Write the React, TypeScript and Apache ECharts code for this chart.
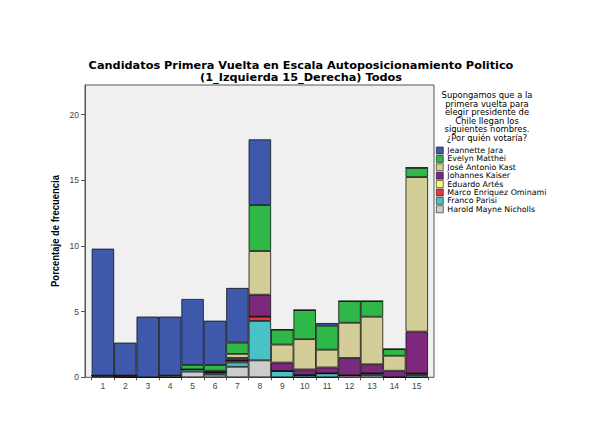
import React, { useEffect, useRef } from "react";
import * as echarts from "echarts";

const categories = ["1", "2", "3", "4", "5", "6", "7", "8", "9", "10", "11", "12", "13", "14", "15"];
const yTicks = [0, 5, 10, 15, 20];

const jara = [9.66, 2.51, 4.62, 4.49, 5.02, 3.38, 4.16, 5.0, 0, 0, 0.2, 0, 0, 0, 0];
const matthei = [0, 0, 0, 0, 0.34, 0.43, 0.86, 3.5, 1.14, 2.22, 1.83, 1.65, 1.19, 0.51, 0.71];
const kast = [0, 0, 0, 0.13, 0, 0.1, 0.3, 3.32, 1.37, 2.3, 1.35, 2.68, 3.62, 1.14, 11.76];
const kaiser = [0, 0, 0, 0, 0, 0, 0.2, 1.67, 0.64, 0.43, 0.45, 1.32, 0.69, 0.5, 3.18];
const artes = [0, 0, 0, 0, 0, 0, 0, 0, 0, 0, 0, 0, 0, 0, 0];
const meo = [0, 0.13, 0, 0, 0, 0.1, 0.15, 0.33, 0, 0, 0, 0, 0, 0, 0.13];
const parisi = [0, 0, 0, 0, 0.17, 0.1, 0.33, 3.0, 0.48, 0.17, 0.3, 0, 0.13, 0, 0.17];
const mayne = [0.13, 0, 0, 0, 0.43, 0.2, 0.8, 1.29, 0, 0, 0, 0.15, 0.17, 0, 0];

const legendNames = [
  "Jeannette Jara",
  "Evelyn Matthei",
  "José Antonio Kast",
  "Johannes Kaiser",
  "Eduardo Artés",
  "Marco Enriquez Ominami",
  "Franco Parisi",
  "Harold Mayne Nicholls",
];
const colors = ["#3E58AC", "#2EB848", "#D3CE97", "#7C287D", "#FBF873", "#EF3338", "#48C2C5", "#CCCCCC"];
const seriesValues = [jara, matthei, kast, kaiser, artes, meo, parisi, mayne];

const titleLine1 = "Candidatos Primera Vuelta en Escala Autoposicionamiento Politico";
const titleLine2 = "(1_Izquierda 15_Derecha) Todos";
const legendTitle = "Supongamos que a la\nprimera vuelta para\nelegir presidente de\nChile llegan los\nsiguientes nombres.\n¿Por quién votaría?";
const yName = "Porcentaje de frecuencia";

const FONT = "Arial, 'Liberation Sans', sans-serif";
const WIDE = "'DejaVu Sans', Arial, sans-serif";

export default function App() {
  const ref = useRef<HTMLDivElement>(null);
  useEffect(() => {
    if (!ref.current) return;
    const chart = echarts.init(ref.current, undefined, { renderer: "svg" });
    const YMAX = 22.25;
    // stack bottom -> top : reverse legend order
    const order = [7, 6, 5, 4, 3, 2, 1, 0];
    const series = order.map((i) => ({
      name: legendNames[i],
      type: "bar",
      stack: "total",
      xAxisIndex: 1,
      yAxisIndex: 1,
      barCategoryGap: "0%",
      data: seriesValues[i],
      itemStyle: { color: colors[i], borderColor: "#111", borderWidth: 0.8 },
    }));
    const titleStyle = { fontSize: 11.3, fontWeight: "bold", color: "#000", fontFamily: WIDE };
    chart.setOption({
      animation: false,
      backgroundColor: "#ffffff",
      textStyle: { fontFamily: FONT },
      title: [
        { text: titleLine1, left: 301, top: 60, textAlign: "center", padding: 0, textStyle: titleStyle },
        { text: titleLine2, left: 301, top: 72, textAlign: "center", padding: 0, textStyle: titleStyle },
      ],
      graphic: [
        {
          type: "text",
          x: 487,
          y: 91,
          style: {
            text: legendTitle,
            fill: "#000",
            font: "8.4px " + WIDE,
            textAlign: "center",
            textVerticalAlign: "top",
            lineHeight: 8.5,
          },
        },
        {
          type: "text",
          x: 55,
          y: 231,
          rotation: Math.PI / 2,
          scaleX: 0.86,
          style: {
            text: yName,
            fill: "#000",
            font: "bold 11px " + FONT,
            textAlign: "center",
            textVerticalAlign: "middle",
          },
        },
      ],
      legend: {
        orient: "vertical",
        left: 436,
        top: 146.5,
        padding: 0,
        itemWidth: 7,
        itemHeight: 7,
        itemGap: 0.4,
        icon: "rect",
        data: legendNames.map((n) => ({ name: n, itemStyle: { borderColor: "#111", borderWidth: 0.6 } })),
        textStyle: { fontSize: 7.9, fontFamily: WIDE, color: "#000", lineHeight: 7, height: 7, padding: [1, 0, 0, -1] },
        selectedMode: false,
      },
      grid: [
        {
          left: 85,
          right: 155,
          top: 85,
          bottom: 64.7,
          show: true,
          backgroundColor: "#F0F0F0",
          borderColor: "#555",
          borderWidth: 1,
        },
        {
          left: 91.7,
          right: 161,
          top: 85,
          bottom: 64.7,
        },
      ],
      xAxis: [
        { type: "value", gridIndex: 0, show: false, min: 0, max: 1 },
        {
          type: "category",
          gridIndex: 1,
          data: categories,
          axisLine: { show: true, lineStyle: { color: "#555" } },
          axisTick: { show: true, length: 3, lineStyle: { color: "#555" } },
          axisLabel: { fontSize: 8.5, color: "#444", margin: 4 },
        },
      ],
      yAxis: [
        {
          type: "value",
          gridIndex: 0,
          min: 0,
          max: YMAX,
          interval: 5,
          axisLine: { show: true, lineStyle: { color: "#555" } },
          axisTick: { show: true, length: 4, lineStyle: { color: "#555" } },
          axisLabel: {
            fontSize: 8.5,
            color: "#444",
            margin: 6,
            showMaxLabel: false,
            formatter: (v: number) => (yTicks.includes(v) ? String(v) : ""),
          },
          splitLine: { show: false },
        },
        { type: "value", gridIndex: 1, min: 0, max: YMAX, show: false, splitLine: { show: false } },
      ],
      series,
    });
    return () => chart.dispose();
  }, []);
  return <div ref={ref} style={{ position: "absolute", left: 0, top: 0, width: 589, height: 442 }} />;
}
